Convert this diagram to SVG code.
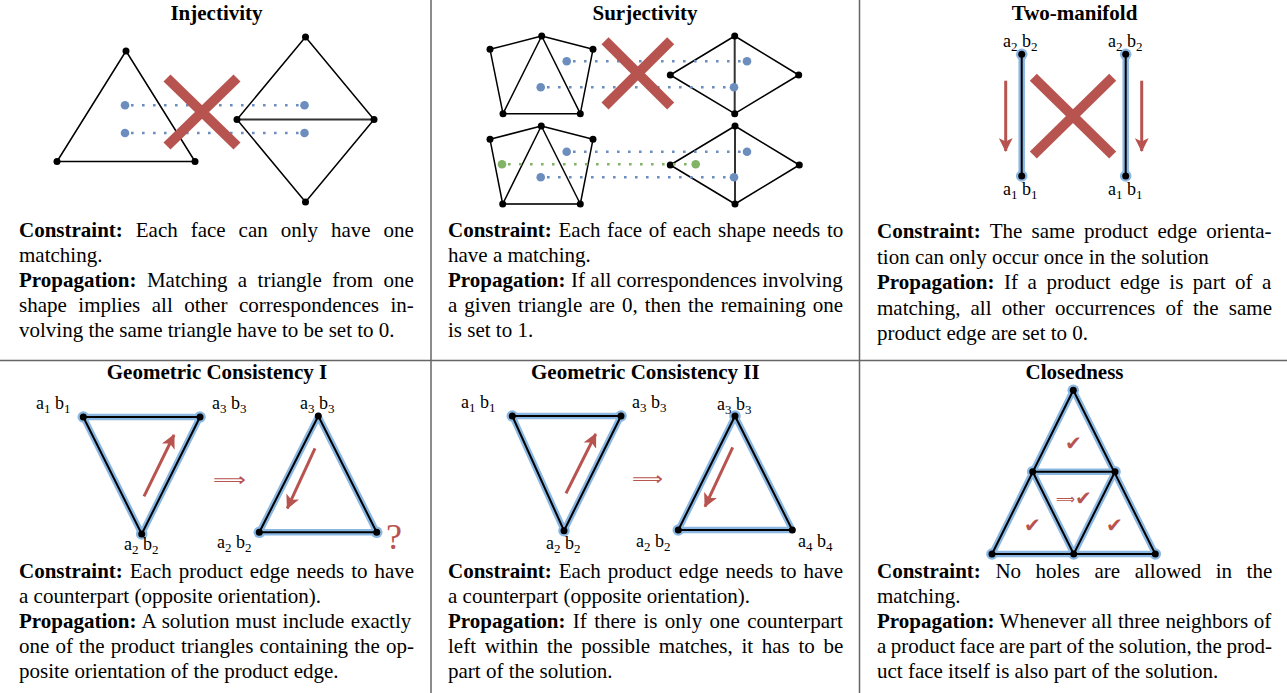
<svg xmlns="http://www.w3.org/2000/svg" width="1287" height="693" viewBox="0 0 1287 693">
<style>
.t{font-family:"Liberation Serif","Times New Roman",serif;font-size:21px;fill:#000}
.b{font-weight:bold}
.ttl{font-weight:bold;text-anchor:middle}
.lbl{font-family:"Liberation Serif","Times New Roman",serif;font-size:18px;fill:#000}
.sub{font-size:13px}
.edge{stroke:#000;stroke-width:1.5;fill:none;stroke-linejoin:round}
.shared{stroke:#333;stroke-width:2;fill:none}
.edge2{stroke:#000;stroke-width:2;fill:none;stroke-linejoin:round}
.v{fill:#000}
.bd{fill:#6c8ebf}
.gd{fill:#82b366}
.dot{stroke:#6c8ebf;stroke-width:2.6;stroke-dasharray:2.6 8.4;fill:none}
.gdot{stroke:#82b366;stroke-width:2.6;stroke-dasharray:2.6 8.4;fill:none}
.x{stroke:#b85450;stroke-width:10;fill:none}
.hl{stroke:#8ab8e3;stroke-width:6.5;fill:none;stroke-linejoin:round;stroke-linecap:round}
.hlv{fill:#8ab8e3}
.arr{stroke:#b85450;stroke-width:3;fill:none;marker-end:url(#ah)}
.sym{font-family:"DejaVu Sans",sans-serif;fill:#b85450}
.chk{font-family:"DejaVu Sans",sans-serif;fill:#b85450;font-size:20px;text-anchor:middle}
.div{stroke:#666;stroke-width:1.5}
</style>
<defs>
<marker id="ah" viewBox="0 0 14 14" refX="13" refY="7" markerWidth="14" markerHeight="14" markerUnits="userSpaceOnUse" orient="auto"><path d="M0,0 L14,7 L0,14 L3.5,7 z" fill="#b85450"/></marker>
</defs>
<rect width="1287" height="693" fill="#fff"/>

<g id="dividers">
<line class="div" x1="431" y1="0" x2="431" y2="693"/>
<line class="div" x1="859.5" y1="0" x2="859.5" y2="693"/>
<line class="div" x1="0" y1="360.5" x2="1287" y2="360.5"/>
</g>

<g id="injectivity">
<text class="t ttl" x="216.5" y="19.5">Injectivity</text>
<polygon class="edge" points="126,51 57,161.5 195,161.5"/>
<polygon class="edge" points="305.5,37 374,119.5 305.5,202 237,119.5"/>
<line class="shared" x1="237" y1="119.5" x2="374" y2="119.5"/>
<g class="v"><circle cx="126" cy="51" r="3.5"/><circle cx="57" cy="161.5" r="3.5"/><circle cx="195" cy="161.5" r="3.5"/><circle cx="305.5" cy="37" r="3.5"/><circle cx="237" cy="119.5" r="3.5"/><circle cx="374" cy="119.5" r="3.5"/><circle cx="305.5" cy="202" r="3.5"/></g>
<line class="dot" x1="131" y1="105.3" x2="300" y2="105.3"/>
<line class="dot" x1="131" y1="133" x2="300" y2="133"/>
<g class="bd"><circle cx="125" cy="105.3" r="4.3"/><circle cx="125" cy="133" r="4.3"/><circle cx="304.5" cy="105.3" r="4.3"/><circle cx="304.5" cy="133" r="4.3"/></g>
<line class="x" x1="167" y1="78" x2="237" y2="146"/>
<line class="x" x1="237" y1="78" x2="167" y2="146"/>
<text class="t" x="19" y="236.5" style="word-spacing:7.7px"><tspan class="b">Constraint:</tspan> Each face can only have one</text>
<text class="t" x="19" y="261.5">matching.</text>
<text class="t" x="19" y="286.5" style="word-spacing:5.2px"><tspan class="b">Propagation:</tspan> Matching a triangle from one</text>
<text class="t" x="19" y="311.5" style="word-spacing:6.3px">shape implies all other correspondences in-</text>
<text class="t" x="19" y="336.5">volving the same triangle have to be set to 0.</text>
</g>

<g id="surjectivity">
<text class="t ttl" x="645" y="19.5">Surjectivity</text>
<polygon class="edge" points="490,49.3 541.7,36 593,49.3 580.3,113.7 503,113.7"/>
<polyline class="edge" points="503,113.7 541.7,36 580.3,113.7"/>
<polygon class="edge" points="734.7,36 670.3,75 734.7,113.7 798.7,75"/>
<line class="shared" x1="734.7" y1="36" x2="734.7" y2="113.7"/>
<polygon class="edge" points="490,139.3 541.3,126 593,139.3 580.3,204 502.7,204"/>
<polyline class="edge" points="502.7,204 541.3,126 580.3,204"/>
<line class="shared" x1="502.7" y1="204" x2="580.3" y2="204"/>
<polygon class="edge" points="735,126 670.3,165 735,204 799.3,165"/>
<line class="shared" x1="735" y1="126" x2="735" y2="204"/>
<g class="v">
<circle cx="490" cy="49.3" r="3.5"/><circle cx="541.7" cy="36" r="3.5"/><circle cx="593" cy="49.3" r="3.5"/><circle cx="580.3" cy="113.7" r="3.5"/><circle cx="503" cy="113.7" r="3.5"/>
<circle cx="734.7" cy="36" r="3.5"/><circle cx="670.3" cy="75" r="3.5"/><circle cx="798.7" cy="75" r="3.5"/><circle cx="734.7" cy="113.7" r="3.5"/>
<circle cx="490" cy="139.3" r="3.5"/><circle cx="541.3" cy="126" r="3.5"/><circle cx="593" cy="139.3" r="3.5"/><circle cx="580.3" cy="204" r="3.5"/><circle cx="502.7" cy="204" r="3.5"/>
<circle cx="735" cy="126" r="3.5"/><circle cx="670.3" cy="165" r="3.5"/><circle cx="799.3" cy="165" r="3.5"/><circle cx="735" cy="204" r="3.5"/>
</g>
<line class="dot" x1="573" y1="61.3" x2="742" y2="61.3"/>
<line class="dot" x1="547" y1="87.3" x2="729" y2="87.3"/>
<line class="dot" x1="573" y1="151.7" x2="742" y2="151.7"/>
<line class="dot" x1="547" y1="177.3" x2="729" y2="177.3"/>
<line class="gdot" x1="508" y1="164.3" x2="690" y2="164.3"/>
<g class="bd"><circle cx="566.7" cy="61.3" r="4.3"/><circle cx="747" cy="61.3" r="4.3"/><circle cx="540.7" cy="87.3" r="4.3"/><circle cx="734" cy="87.3" r="4.3"/><circle cx="566.7" cy="151.7" r="4.3"/><circle cx="747" cy="151.7" r="4.3"/><circle cx="540.7" cy="177.3" r="4.3"/><circle cx="734" cy="177.3" r="4.3"/></g>
<g class="gd"><circle cx="502" cy="164.3" r="4.3"/><circle cx="695.7" cy="164.3" r="4.3"/></g>
<line class="x" x1="605" y1="40.7" x2="670.7" y2="106"/>
<line class="x" x1="670.7" y1="40.7" x2="605" y2="106"/>
<text class="t" x="448" y="236.5" style="word-spacing:1.4px"><tspan class="b">Constraint:</tspan> Each face of each shape needs to</text>
<text class="t" x="448" y="261.5">have a matching.</text>
<text class="t" x="448" y="286.5" style="word-spacing:0.2px"><tspan class="b">Propagation:</tspan> If all correspondences involving</text>
<text class="t" x="448" y="311.5" style="word-spacing:1.8px">a given triangle are 0, then the remaining one</text>
<text class="t" x="448" y="336.5">is set to 1.</text>
</g>

<g id="two-manifold">
<text class="t ttl" x="1074.5" y="19.5">Two-manifold</text>
<line class="hl" x1="1021.7" y1="54.3" x2="1021.7" y2="176"/>
<line class="hl" x1="1125.7" y1="54.3" x2="1125.7" y2="176"/>
<g class="hlv"><circle cx="1021.7" cy="54.3" r="5.8"/><circle cx="1021.7" cy="176" r="5.8"/><circle cx="1125.7" cy="54.3" r="5.8"/><circle cx="1125.7" cy="176" r="5.8"/></g>
<line class="edge2" x1="1021.7" y1="54.3" x2="1021.7" y2="176"/>
<line class="edge2" x1="1125.7" y1="54.3" x2="1125.7" y2="176"/>
<g class="v"><circle cx="1021.7" cy="54.3" r="3.5"/><circle cx="1021.7" cy="176" r="3.5"/><circle cx="1125.7" cy="54.3" r="3.5"/><circle cx="1125.7" cy="176" r="3.5"/></g>
<line class="arr" x1="1005.7" y1="80.7" x2="1005.7" y2="151"/>
<line class="arr" x1="1141.7" y1="80.7" x2="1141.7" y2="151"/>
<line class="x" x1="1033.3" y1="77.3" x2="1112.7" y2="155"/>
<line class="x" x1="1112.7" y1="77.3" x2="1033.3" y2="155"/>
<text class="lbl" x="1003" y="47">a<tspan class="sub" dy="4">2</tspan><tspan dx="4.5" dy="-4">b</tspan><tspan class="sub" dy="4">2</tspan></text>
<text class="lbl" x="1108" y="47">a<tspan class="sub" dy="4">2</tspan><tspan dx="4.5" dy="-4">b</tspan><tspan class="sub" dy="4">2</tspan></text>
<text class="lbl" x="1003" y="195">a<tspan class="sub" dy="4">1</tspan><tspan dx="4.5" dy="-4">b</tspan><tspan class="sub" dy="4">1</tspan></text>
<text class="lbl" x="1108" y="195">a<tspan class="sub" dy="4">1</tspan><tspan dx="4.5" dy="-4">b</tspan><tspan class="sub" dy="4">1</tspan></text>
<text class="t" x="877" y="238" style="word-spacing:4px"><tspan class="b">Constraint:</tspan> The same product edge orienta-</text>
<text class="t" x="877" y="263.5">tion can only occur once in the solution</text>
<text class="t" x="877" y="289" style="word-spacing:4.3px"><tspan class="b">Propagation:</tspan> If a product edge is part of a</text>
<text class="t" x="877" y="314.5" style="word-spacing:4.9px">matching, all other occurrences of the same</text>
<text class="t" x="877" y="340">product edge are set to 0.</text>
</g>

<g id="geometric-consistency-1">
<text class="t ttl" x="217" y="379">Geometric Consistency I</text>
<polygon class="hl" points="83.3,417 200,417 141.7,534"/>
<polygon class="hl" points="318.3,416 259.3,532.3 376.7,532.3"/>
<g class="hlv"><circle cx="83.3" cy="417" r="5.8"/><circle cx="200" cy="417" r="5.8"/><circle cx="141.7" cy="534" r="5.8"/><circle cx="259.3" cy="532.3" r="5.8"/><circle cx="376.7" cy="532.3" r="5.8"/></g>
<polygon class="edge2" points="83.3,417 200,417 141.7,534"/>
<polygon class="edge2" points="318.3,416 259.3,532.3 376.7,532.3"/>
<g class="v"><circle cx="83.3" cy="417" r="3.5"/><circle cx="200" cy="417" r="3.5"/><circle cx="141.7" cy="534" r="3.5"/><circle cx="318.3" cy="416" r="3.5"/><circle cx="259.3" cy="532.3" r="3.5"/><circle cx="376.7" cy="532.3" r="3.5"/></g>
<line class="arr" x1="144" y1="496.3" x2="174" y2="435"/>
<line class="arr" x1="315" y1="448.3" x2="287.3" y2="508.3"/>
<text class="sym" x="213" y="486" font-size="18" textLength="33" lengthAdjust="spacingAndGlyphs">⟹</text>
<text class="t" x="386" y="548.5" style="font-size:36px;fill:#b85450">?</text>
<text class="lbl" x="36" y="409">a<tspan class="sub" dy="4">1</tspan><tspan dx="4.5" dy="-4">b</tspan><tspan class="sub" dy="4">1</tspan></text>
<text class="lbl" x="212" y="409">a<tspan class="sub" dy="4">3</tspan><tspan dx="4.5" dy="-4">b</tspan><tspan class="sub" dy="4">3</tspan></text>
<text class="lbl" x="124" y="550">a<tspan class="sub" dy="4">2</tspan><tspan dx="4.5" dy="-4">b</tspan><tspan class="sub" dy="4">2</tspan></text>
<text class="lbl" x="300" y="409">a<tspan class="sub" dy="4">3</tspan><tspan dx="4.5" dy="-4">b</tspan><tspan class="sub" dy="4">3</tspan></text>
<text class="lbl" x="217" y="548">a<tspan class="sub" dy="4">2</tspan><tspan dx="4.5" dy="-4">b</tspan><tspan class="sub" dy="4">2</tspan></text>
<text class="t" x="19" y="577.5" style="word-spacing:1.7px"><tspan class="b">Constraint:</tspan> Each product edge needs to have</text>
<text class="t" x="19" y="602.5">a counterpart (opposite orientation).</text>
<text class="t" x="19" y="627.5" style="word-spacing:0.95px"><tspan class="b">Propagation:</tspan> A solution must include exactly</text>
<text class="t" x="19" y="652.5" style="word-spacing:0.85px">one of the product triangles containing the op-</text>
<text class="t" x="19" y="677.5">posite orientation of the product edge.</text>
</g>

<g id="geometric-consistency-2">
<text class="t ttl" x="645.3" y="379">Geometric Consistency II</text>
<polygon class="hl" points="512.3,416 621,416 564,530.7"/>
<polygon class="hl" points="735,416 678.3,530 792.3,530"/>
<g class="hlv"><circle cx="512.3" cy="416" r="5.8"/><circle cx="621" cy="416" r="5.8"/><circle cx="564" cy="530.7" r="5.8"/><circle cx="678.3" cy="530" r="5.8"/><circle cx="735" cy="416" r="5.8"/></g>
<polygon class="edge2" points="512.3,416 621,416 564,530.7"/>
<polygon class="edge2" points="735,416 678.3,530 792.3,530"/>
<g class="v"><circle cx="512.3" cy="416" r="3.5"/><circle cx="621" cy="416" r="3.5"/><circle cx="564" cy="530.7" r="3.5"/><circle cx="735" cy="416" r="3.5"/><circle cx="678.3" cy="530" r="3.5"/><circle cx="792.3" cy="530" r="3.5"/></g>
<line class="arr" x1="566" y1="493.3" x2="595.7" y2="434"/>
<line class="arr" x1="732.7" y1="447.3" x2="705" y2="506.7"/>
<text class="sym" x="632" y="485" font-size="18" textLength="31" lengthAdjust="spacingAndGlyphs">⟹</text>
<text class="lbl" x="461" y="408">a<tspan class="sub" dy="4">1</tspan><tspan dx="4.5" dy="-4">b</tspan><tspan class="sub" dy="4">1</tspan></text>
<text class="lbl" x="632" y="408">a<tspan class="sub" dy="4">3</tspan><tspan dx="4.5" dy="-4">b</tspan><tspan class="sub" dy="4">3</tspan></text>
<text class="lbl" x="546" y="549">a<tspan class="sub" dy="4">2</tspan><tspan dx="4.5" dy="-4">b</tspan><tspan class="sub" dy="4">2</tspan></text>
<text class="lbl" x="717" y="410">a<tspan class="sub" dy="4">3</tspan><tspan dx="4.5" dy="-4">b</tspan><tspan class="sub" dy="4">3</tspan></text>
<text class="lbl" x="636" y="547">a<tspan class="sub" dy="4">2</tspan><tspan dx="4.5" dy="-4">b</tspan><tspan class="sub" dy="4">2</tspan></text>
<text class="lbl" x="798" y="547">a<tspan class="sub" dy="4">4</tspan><tspan dx="4.5" dy="-4">b</tspan><tspan class="sub" dy="4">4</tspan></text>
<text class="t" x="448" y="577.5" style="word-spacing:1.7px"><tspan class="b">Constraint:</tspan> Each product edge needs to have</text>
<text class="t" x="448" y="602.5">a counterpart (opposite orientation).</text>
<text class="t" x="448" y="627.5" style="word-spacing:2.1px"><tspan class="b">Propagation:</tspan> If there is only one counterpart</text>
<text class="t" x="448" y="652.5" style="word-spacing:3.4px">left within the possible matches, it has to be</text>
<text class="t" x="448" y="677.5">part of the solution.</text>
</g>

<g id="closedness">
<text class="t ttl" x="1074.5" y="379">Closedness</text>
<g class="hl"><polygon points="1073.3,390.3 992,554 1155.3,554"/><polygon points="1032.7,471.7 1115,471.7 1073.7,554"/></g>
<g class="hlv"><circle cx="1073.3" cy="390.3" r="5.8"/><circle cx="1032.7" cy="471.7" r="5.8"/><circle cx="1115" cy="471.7" r="5.8"/><circle cx="992" cy="554" r="5.8"/><circle cx="1073.7" cy="554" r="5.8"/><circle cx="1155.3" cy="554" r="5.8"/></g>
<g class="edge2"><polygon points="1073.3,390.3 992,554 1155.3,554"/><polygon points="1032.7,471.7 1115,471.7 1073.7,554"/></g>
<g class="v"><circle cx="1073.3" cy="390.3" r="3.5"/><circle cx="1032.7" cy="471.7" r="3.5"/><circle cx="1115" cy="471.7" r="3.5"/><circle cx="992" cy="554" r="3.5"/><circle cx="1073.7" cy="554" r="3.5"/><circle cx="1155.3" cy="554" r="3.5"/></g>
<text class="chk" x="1073.5" y="449.5">✔</text>
<text class="chk" x="1032.5" y="531.5">✔</text>
<text class="chk" x="1114.5" y="531.5">✔</text>
<text class="sym" x="1056" y="504" font-size="14" textLength="19" lengthAdjust="spacingAndGlyphs">⟹</text>
<text class="chk" x="1083.5" y="504.5">✔</text>
<text class="t" x="877" y="577.5" style="word-spacing:9.3px"><tspan class="b">Constraint:</tspan> No holes are allowed in the</text>
<text class="t" x="877" y="602.5">matching.</text>
<text class="t" x="877" y="627.5" style="word-spacing:0.27px"><tspan class="b">Propagation:</tspan> Whenever all three neighbors of</text>
<text class="t" x="877" y="652.5" style="word-spacing:-0.7px">a product face are part of the solution, the prod-</text>
<text class="t" x="877" y="677.5">uct face itself is also part of the solution.</text>
</g>
</svg>
